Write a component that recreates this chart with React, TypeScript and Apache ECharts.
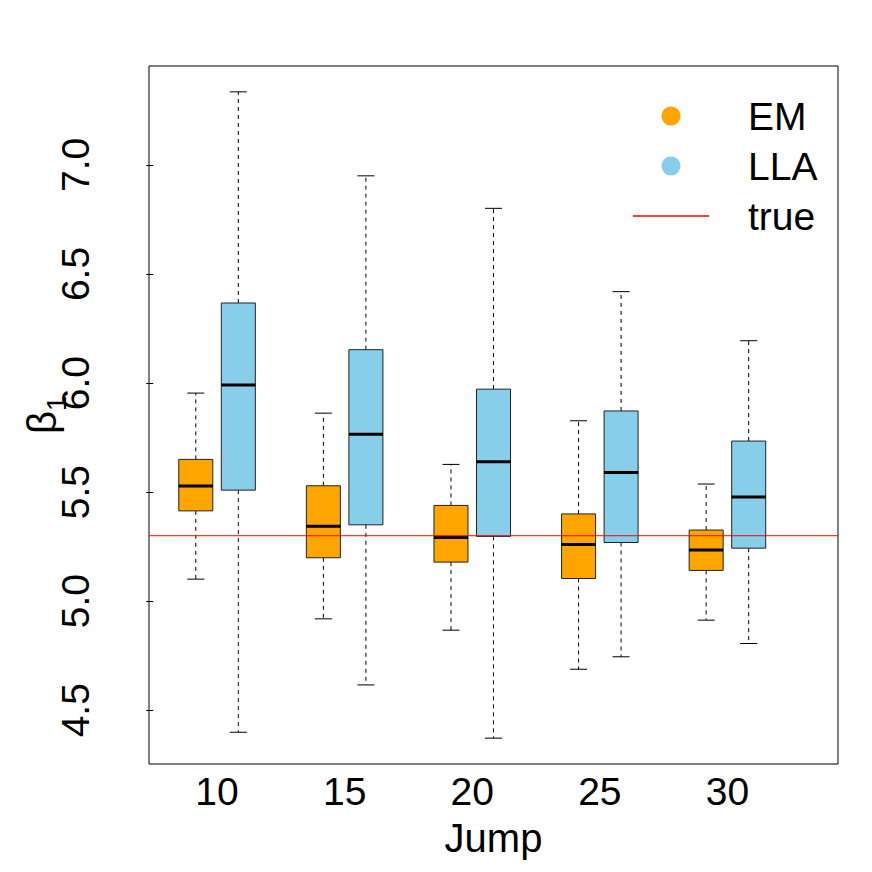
import React, { useEffect, useRef } from "react";
import * as echarts from "echarts";

// ---------- data ----------
const jumpLabels = ["10", "15", "20", "25", "30"];
const groupCenters = [1.5, 4.5, 7.5, 10.5, 13.5];
const emPositions = [1, 4, 7, 10, 13];
const llaPositions = [2, 5, 8, 11, 14];
// [lower whisker, Q1, median, Q3, upper whisker]
const emStats = [
  [5.101, 5.414, 5.528, 5.65, 5.954],
  [4.919, 5.199, 5.343, 5.529, 5.862],
  [4.867, 5.179, 5.292, 5.439, 5.627],
  [4.688, 5.104, 5.26, 5.4, 5.827],
  [4.913, 5.141, 5.235, 5.326, 5.537],
];
const llaStats = [
  [4.399, 5.509, 5.991, 6.367, 7.335],
  [4.616, 5.35, 5.765, 6.153, 6.95],
  [4.372, 5.297, 5.639, 5.972, 6.801],
  [4.745, 5.269, 5.59, 5.872, 6.419],
  [4.806, 5.243, 5.478, 5.734, 6.194],
];
const trueValue = 5.3;
const yTicks = [4.5, 5.0, 5.5, 6.0, 6.5, 7.0];
const seriesNames = ["EM", "LLA"];
const seriesColors = ["#FFA500", "#87CEEB"];
const xLimits = [0.5, 15.5];

const FONT = "'Liberation Sans', Arial, Helvetica, sans-serif";

export default function App() {
  const ref = useRef<HTMLDivElement>(null);

  useEffect(() => {
    if (!ref.current) return;
    const chart = echarts.init(ref.current, null, { renderer: "svg" });

    const all = [...emStats.flat(), ...llaStats.flat()];
    const dMin = Math.min(...all);
    const dMax = Math.max(...all);
    const yPad = (dMax - dMin) * 0.04;
    const yMin = dMin - yPad;
    const yMax = dMax + yPad;
    const xPad = (xLimits[1] - xLimits[0]) * 0.04;
    const xMin = xLimits[0] - xPad;
    const xMax = xLimits[1] + xPad;

    const renderBox = (params: any, api: any) => {
      const x = api.value(0);
      const lo = api.coord([x, api.value(1)]);
      const q1 = api.coord([x, api.value(2)]);
      const med = api.coord([x, api.value(3)]);
      const q3 = api.coord([x, api.value(4)]);
      const hi = api.coord([x, api.value(5)]);
      const boxW = api.size([0.8, 0])[0];
      const capW = api.size([0.4, 0])[0];
      const cx = lo[0];
      const color = api.visual("color");
      const dashed = { stroke: "#000", lineWidth: 1, lineDash: [4, 4] };
      const solid = { stroke: "#000", lineWidth: 1 };
      return {
        type: "group",
        children: [
          { type: "line", shape: { x1: cx, y1: q3[1], x2: cx, y2: hi[1] }, style: dashed },
          { type: "line", shape: { x1: cx, y1: q1[1], x2: cx, y2: lo[1] }, style: dashed },
          { type: "line", shape: { x1: cx - capW / 2, y1: hi[1], x2: cx + capW / 2, y2: hi[1] }, style: solid },
          { type: "line", shape: { x1: cx - capW / 2, y1: lo[1], x2: cx + capW / 2, y2: lo[1] }, style: solid },
          {
            type: "rect",
            shape: { x: cx - boxW / 2, y: q3[1], width: boxW, height: q1[1] - q3[1] },
            style: { fill: color, stroke: "#222", lineWidth: 1 },
          },
          {
            type: "line",
            shape: { x1: cx - boxW / 2, y1: med[1], x2: cx + boxW / 2, y2: med[1] },
            style: { stroke: "#000", lineWidth: 3 },
          },
        ],
      };
    };

    const emData = emPositions.map((p, i) => [p, ...emStats[i]]);
    const llaData = llaPositions.map((p, i) => [p, ...llaStats[i]]);

    const rows = [116, 166, 216];

    chart.setOption({
      animation: false,
      grid: {
        left: 149,
        top: 66,
        right: 34,
        bottom: 108,
        containLabel: false,
        outerBoundsMode: "none",
        show: true,
        borderColor: "#000",
        borderWidth: 1,
        backgroundColor: "transparent",
      },
      xAxis: {
        type: "value",
        min: xMin,
        max: xMax,
        axisLine: { show: false },
        axisTick: { show: false },
        splitLine: { show: false },
        axisLabel: {
          customValues: groupCenters,
          formatter: (v: number) => {
            const i = groupCenters.findIndex((c) => Math.abs(c - v) < 1e-6);
            return i >= 0 ? jumpLabels[i] : "";
          },
          fontSize: 39,
          fontFamily: FONT,
          color: "#000",
          margin: 8,
        },
        name: "Jump",
        nameLocation: "middle",
        nameGap: 54,
        nameMoveOverlap: false,
        nameTextStyle: { fontSize: 40, fontFamily: FONT, color: "#000" },
      },
      yAxis: {
        type: "value",
        min: yMin,
        max: yMax,
        axisLine: { show: false },
        splitLine: { show: false },
        axisTick: {
          show: true,
          customValues: yTicks,
          length: 7,
          lineStyle: { color: "#000", width: 1 },
        },
        axisLabel: {
          customValues: yTicks,
          rotate: 90,
          formatter: (v: number) => v.toFixed(1),
          fontSize: 39,
          fontFamily: FONT,
          color: "#000",
          margin: 54,
        },
        name: "{b|β}{s|1}",
        nameLocation: "middle",
        nameRotate: 90,
        nameGap: 79,
        nameMoveOverlap: false,
        nameTextStyle: {
          fontFamily: FONT,
          color: "#000",
          rich: {
            b: { fontSize: 40, fontFamily: FONT, color: "#000", padding: [0, 0, 8, 0], verticalAlign: "bottom" },
            s: { fontSize: 27, fontFamily: FONT, color: "#000", verticalAlign: "bottom" },
          },
        },
      },
      series: [
        {
          name: seriesNames[0],
          type: "custom",
          renderItem: renderBox,
          itemStyle: { color: seriesColors[0] },
          encode: { x: 0, y: [1, 2, 3, 4, 5] },
          data: emData,
          z: 2,
        },
        {
          name: seriesNames[1],
          type: "custom",
          renderItem: renderBox,
          itemStyle: { color: seriesColors[1] },
          encode: { x: 0, y: [1, 2, 3, 4, 5] },
          data: llaData,
          z: 2,
        },
        {
          name: "true",
          type: "line",
          data: [
            [xMin, trueValue],
            [xMax, trueValue],
          ],
          symbol: "none",
          lineStyle: { color: "#FF0000", width: 1 },
          z: 5,
        },
      ],
      graphic: [
        { type: "circle", shape: { cx: 671, cy: rows[0], r: 9.5 }, style: { fill: seriesColors[0] } },
        { type: "circle", shape: { cx: 671, cy: rows[1], r: 9.5 }, style: { fill: seriesColors[1] } },
        { type: "line", shape: { x1: 633, y1: rows[2], x2: 709, y2: rows[2] }, style: { stroke: "#FF0000", lineWidth: 1.5 } },
        ...["EM", "LLA", "true"].map((t, i) => ({
          type: "text",
          x: 748,
          y: rows[i],
          style: { text: t, fontSize: 39, fontFamily: FONT, fill: "#000", verticalAlign: "middle", align: "left" },
        })),
      ],
    });

    return () => chart.dispose();
  }, []);

  return <div ref={ref} style={{ width: 872, height: 872, position: "absolute", left: 0, top: 0 }} />;
}
